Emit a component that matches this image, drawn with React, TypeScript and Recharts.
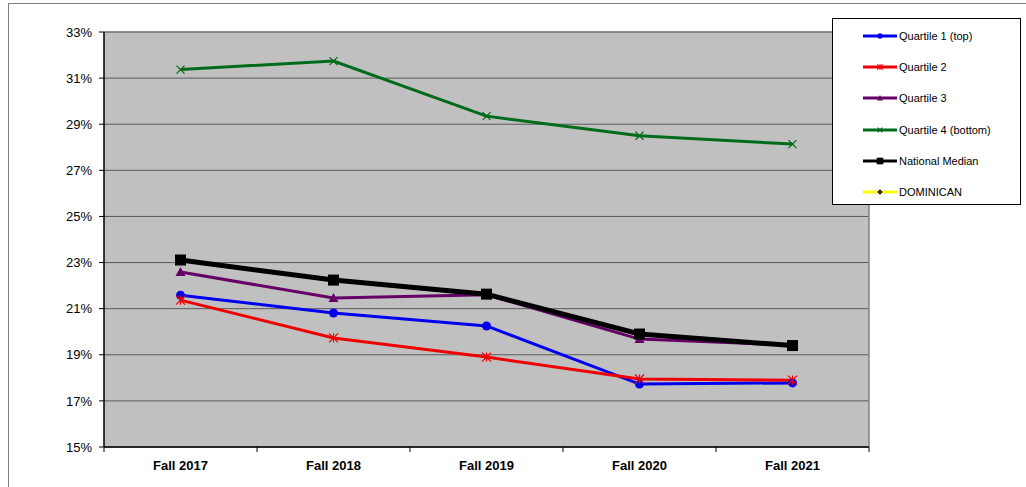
import { LineChart, Line, XAxis, YAxis, CartesianGrid, ReferenceLine } from 'recharts'

const TERMS = ['Fall 2017', 'Fall 2018', 'Fall 2019', 'Fall 2020', 'Fall 2021']
const Q1_TOP = [21.58, 20.81, 20.25, 17.73, 17.78]
const Q2 = [21.37, 19.73, 18.9, 17.95, 17.9]
const Q3 = [22.59, 21.46, 21.6, 19.68, 19.42]
const Q4_BOTTOM = [31.37, 31.74, 29.35, 28.5, 28.14]
const NATIONAL_MEDIAN = [23.11, 22.24, 21.63, 19.9, 19.4]
const DOMINICAN: (number | null)[] = [null, null, null, null, null]
const Y_TICKS = [15, 17, 19, 21, 23, 25, 27, 29, 31, 33]

const FONT = '"Liberation Sans", Arial, sans-serif'
const W = 1026
const H = 487
const PLOT_LEFT = 104
const PLOT_TOP = 32
const PLOT_RIGHT = 869
const PLOT_BOTTOM = 447
const HALF_BAND = (PLOT_RIGHT - PLOT_LEFT) / TERMS.length / 2

const data = TERMS.map((t, i) => ({
  term: t,
  pos: i + 0.5,
  q1: Q1_TOP[i],
  q2: Q2[i],
  q3: Q3[i],
  q4: Q4_BOTTOM[i],
  median: NATIONAL_MEDIAN[i],
  dom: DOMINICAN[i],
}))

type Kind = 'circle' | 'star' | 'triangle' | 'x' | 'square' | 'diamond'

function Marker({ kind, cx, cy, color, s = 1 }: { kind: Kind; cx: number; cy: number; color: string; s?: number }) {
  if (cx == null || cy == null) return null
  switch (kind) {
    case 'circle':
      return <circle cx={cx} cy={cy} r={4.5 * s} fill={color} />
    case 'square':
      return <rect x={cx - 5.5 * s} y={cy - 5.5 * s} width={11 * s} height={11 * s} fill={color} />
    case 'triangle': {
      const r = 5 * s
      return <polygon points={`${cx},${cy - r} ${cx + r},${cy + r * 0.8} ${cx - r},${cy + r * 0.8}`} fill={color} />
    }
    case 'x': {
      const r = 4 * s
      return (
        <g stroke={color} strokeWidth={1.2}>
          <line x1={cx - r} y1={cy - r} x2={cx + r} y2={cy + r} />
          <line x1={cx - r} y1={cy + r} x2={cx + r} y2={cy - r} />
        </g>
      )
    }
    case 'star': {
      const r = 4.5 * s
      return (
        <g stroke={color} strokeWidth={1.2}>
          <line x1={cx - r} y1={cy - r} x2={cx + r} y2={cy + r} />
          <line x1={cx - r} y1={cy + r} x2={cx + r} y2={cy - r} />
          <line x1={cx} y1={cy - r} x2={cx} y2={cy + r} />
        </g>
      )
    }
    case 'diamond': {
      const r = 3 * s
      return <polygon points={`${cx},${cy - r} ${cx + r},${cy} ${cx},${cy + r} ${cx - r},${cy}`} fill="#fff" stroke="#000" strokeWidth={1.3} />
    }
  }
  return null
}

const SERIES: { key: string; name: string; color: string; width: number; kind: Kind }[] = [
  { key: 'q1', name: 'Quartile 1 (top)', color: '#0000EE', width: 3, kind: 'circle' },
  { key: 'q2', name: 'Quartile 2', color: '#EE0000', width: 3, kind: 'star' },
  { key: 'q3', name: 'Quartile 3', color: '#660066', width: 3, kind: 'triangle' },
  { key: 'q4', name: 'Quartile 4 (bottom)', color: '#006B1A', width: 3, kind: 'x' },
  { key: 'median', name: 'National Median', color: '#000000', width: 5, kind: 'square' },
  { key: 'dom', name: 'DOMINICAN', color: '#FFFF00', width: 3, kind: 'diamond' },
]

const TermTick = ({ x, payload }: any) => {
  const idx = payload.value
  if (idx >= TERMS.length) return null
  return (
    <text x={x + HALF_BAND} y={465} dy="0.35em" textAnchor="middle" fontFamily={FONT} fontSize={13} fontWeight="bold" fill="#000">
      {TERMS[idx]}
    </text>
  )
}

function ChartLegend() {
  return (
    <div style={{ position: 'absolute', left: 832, top: 18, width: 189, height: 187, background: '#fff', border: '1px solid #000', boxSizing: 'border-box' }}>
      {SERIES.map((s, i) => (
        <div key={s.key} style={{ position: 'absolute', left: 0, top: 9 + i * 31.2, height: 16, display: 'flex', alignItems: 'center' }}>
          <svg width={66} height={16} style={{ display: 'block' }}>
            <line x1={30} y1={8} x2={64} y2={8} stroke={s.color} strokeWidth={3} />
            <Marker kind={s.kind} cx={47} cy={8} color={s.color} s={0.6} />
          </svg>
          <span style={{ fontFamily: FONT, fontSize: 11, color: '#000', whiteSpace: 'nowrap' }}>{s.name}</span>
        </div>
      ))}
    </div>
  )
}

export default function App() {
  return (
    <div style={{ position: 'fixed', left: 0, top: 0, width: W, height: H, overflow: 'hidden', background: '#fff' }}>
      <div style={{ position: 'absolute', left: 8, top: 3, width: 1100, height: 600, border: '1px solid #808080' }} />
      <div style={{ position: 'absolute', left: 0, top: 0 }}>
        <LineChart
          width={W}
          height={H}
          data={data}
          margin={{ top: PLOT_TOP, right: W - PLOT_RIGHT, bottom: 0, left: 0 }}
        >
          <CartesianGrid vertical={false} stroke="#5a5a5a" fill="#C0C0C0" fillOpacity={1} />
          <XAxis
            type="number"
            dataKey="pos"
            domain={[0, TERMS.length]}
            ticks={TERMS.map((_, i) => i).concat(TERMS.length)}
            tick={<TermTick />}
            tickSize={5}
            tickLine={{ stroke: '#000' }}
            axisLine={{ stroke: '#000', strokeWidth: 1.5 }}
            height={H - PLOT_BOTTOM}
            interval={0}
            allowDataOverflow
          />
          <YAxis
            type="number"
            domain={[15, 33]}
            ticks={Y_TICKS}
            tickFormatter={v => `${v}%`}
            tick={{ fontFamily: FONT, fontSize: 13, fill: '#000' }}
            tickSize={5}
            tickMargin={7}
            tickLine={{ stroke: '#000' }}
            axisLine={{ stroke: '#000', strokeWidth: 1.5 }}
            width={PLOT_LEFT}
            interval={0}
            allowDataOverflow
          />
          <ReferenceLine x={TERMS.length} stroke="#808080" strokeWidth={1.5} />
          <ReferenceLine y={33} stroke="#808080" strokeWidth={1.5} />
          {SERIES.map(s => (
            <Line
              key={s.key}
              dataKey={s.key}
              name={s.name}
              type="linear"
              stroke={s.color}
              strokeWidth={s.width}
              isAnimationActive={false}
              connectNulls={false}
              dot={(p: any) => <Marker key={`${s.key}-${p.index}`} kind={s.kind} cx={p.cx} cy={p.cy} color={s.color} />}
              activeDot={false}
            />
          ))}
        </LineChart>
      </div>
      <ChartLegend />
    </div>
  )
}
